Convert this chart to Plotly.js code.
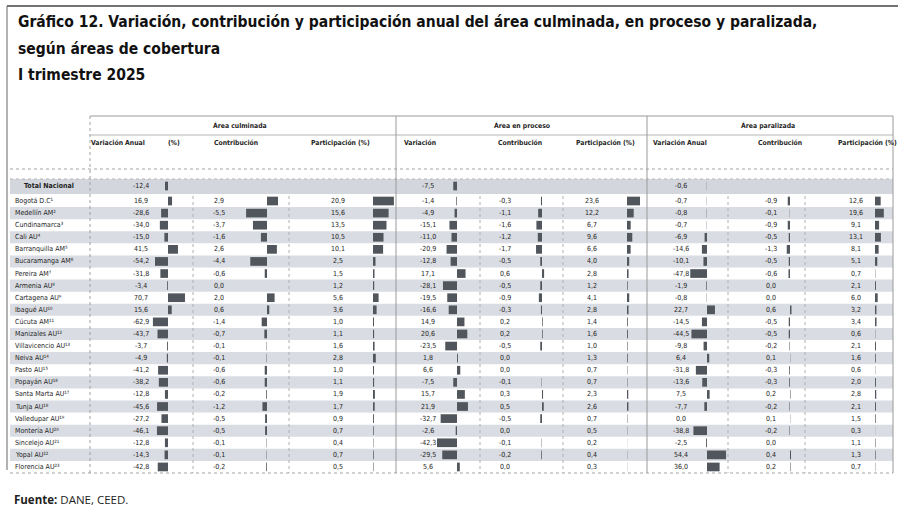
<!DOCTYPE html>
<html><head><meta charset="utf-8">
<script src="https://cdn.plot.ly/plotly-3.0.1.min.js"></script>
<style>html,body{margin:0;padding:0;background:#fff}#chart{width:898px;height:507px}</style>
</head><body><div id="chart"></div>
<script>
// ---------------- DATA ----------------
const regions = ['Bogotá D.C','Medellín AM','Cundinamarca','Cali AU','Barranquilla AM','Bucaramanga AM','Pereira AM','Armenia AU','Cartagena AU','Ibagué AU','Cúcuta AM','Manizales AU','Villavicencio AU','Neiva AU','Pasto AU','Popayán AU','Santa Marta AU','Tunja AU','Valledupar AU','Montería AU','Sincelejo AU','Yopal AU','Florencia AU'];
const notes = ['¹','²','³','⁴','⁵','⁶','⁷','⁸','⁹','¹⁰','¹¹','¹²','¹³','¹⁴','¹⁵','¹⁶','¹⁷','¹⁸','¹⁹','²⁰','²¹','²²','²³'];
const totalLabel = 'Total Nacional';

// Área culminada
const culmVar = [16.9,-28.6,-34.0,-15.0,41.5,-54.2,-31.8,-3.4,70.7,15.6,-62.9,-43.7,-3.7,-4.9,-41.2,-38.2,-12.8,-45.6,-27.2,-46.1,-12.8,-14.3,-42.8];
const culmCon = [2.9,-5.5,-3.7,-1.6,2.6,-4.4,-0.6,0.0,2.0,0.6,-1.4,-0.7,-0.1,-0.1,-0.6,-0.6,-0.2,-1.2,-0.5,-0.5,-0.1,-0.1,-0.2];
const culmPar = [20.9,15.6,13.5,10.5,10.1,2.5,1.5,1.2,5.6,3.6,1.0,1.1,1.6,2.8,1.0,1.1,1.9,1.7,0.9,0.7,0.4,0.7,0.5];
// Área en proceso
const procVar = [-1.4,-4.9,-15.1,-11.0,-20.9,-12.8,17.1,-28.1,-19.5,-16.6,14.9,20.6,-23.5,1.8,6.6,-7.5,15.7,21.9,-32.7,-2.6,-42.3,-29.5,5.6];
const procCon = [-0.3,-1.1,-1.6,-1.2,-1.7,-0.5,0.6,-0.5,-0.9,-0.3,0.2,0.2,-0.5,0.0,0.0,-0.1,0.3,0.5,-0.5,0.0,-0.1,-0.2,0.0];
const procPar = [23.6,12.2,6.7,9.6,6.6,4.0,2.8,1.2,4.1,2.8,1.4,1.6,1.0,1.3,0.7,0.7,2.3,2.6,0.7,0.5,0.2,0.4,0.3];
// Área paralizada
const parVar = [-0.7,-0.8,-0.7,-6.9,-14.6,-10.1,-47.8,-1.9,-0.8,22.7,-14.5,-44.5,-9.8,6.4,-31.8,-13.6,7.5,-7.7,0.0,-38.8,-2.5,54.4,36.0];
const parCon = [-0.9,-0.1,-0.9,-0.5,-1.3,-0.5,-0.6,0.0,0.0,0.6,-0.5,-0.5,-0.2,0.1,-0.3,-0.3,0.2,-0.2,0.1,-0.2,0.0,0.4,0.2];
const parPar = [12.6,19.6,9.1,13.1,8.1,5.1,0.7,2.1,6.0,3.2,3.4,0.6,2.1,1.6,0.6,2.0,2.8,2.1,1.5,0.3,1.1,1.3,0.7];
// Total nacional (variación)
const totalCulmVar = -12.4, totalProcVar = -7.5, totalParVar = -0.6;

const groupTitles = ['Área culminada','Área en proceso','Área paralizada'];
const colHeaders = ['Variación Anual','(%)','Contribución','Participación (%)','Variación','Contribución','Participación (%)','Variación Anual','Contribución','Participación (%)'];

// ---------------- LAYOUT HELPERS ----------------
const W = 898, H = 507;
const P = px => px / W;
const Q = py => 1 - py / H;
const TOTAL_Y = -1.24;
const yTop = 172, yBot = 473, rTop = -2.4, rBot = 22.5;

const font = "'DejaVu Sans Condensed', 'DejaVu Sans', sans-serif";
const txtCol = '#1e1e1e';
const barCol = '#50565b';
const fmt = v => v.toFixed(1).replace('.', ',');
const TS = 7;   // table text size
const HS = 6.8; // header text size
const TTL = 15.5;

const cols = [
  {vals: culmVar, dom:[145,190], zero:168, ppu:0.24, tx:141, total: totalCulmVar},
  {vals: culmCon, dom:[240,285], zero:267, ppu:3.8, tx:219},
  {vals: culmPar, dom:[373,395], zero:373, ppu:1.0, tx:338},
  {vals: procVar, dom:[437,476], zero:457, ppu:0.5, tx:428, total: totalProcVar},
  {vals: procCon, dom:[528,553], zero:542, ppu:3.5, tx:505},
  {vals: procPar, dom:[627,646], zero:627, ppu:0.55, tx:592},
  {vals: parVar, dom:[686,727], zero:707, ppu:0.35, tx:681, total: totalParVar},
  {vals: parCon, dom:[778,802], zero:790, ppu:2.5, tx:771},
  {vals: parPar, dom:[875,892], zero:875, ppu:0.45, tx:856}
];

const idx = regions.map((_, i) => i);
const traces = [];
const layout = {
  width: W, height: H,
  margin: {l:0, r:0, t:0, b:0},
  paper_bgcolor: '#ffffff', plot_bgcolor: 'rgba(0,0,0,0)',
  showlegend: false,
  separators: ',.',
  font: {family: font, color: txtCol},
  title: {text: '<b>Gráfico 12. Variación, contribución y participación anual del área culminada, en proceso y paralizada,</b>',
          x: P(18), xanchor: 'left', xref: 'paper', y: Q(22), yanchor: 'middle', yref: 'container',
          font: {family: font, size: TTL, color: '#111'}},
  yaxis: {domain: [Q(yBot), Q(yTop)], range: [rBot, rTop], visible: false, fixedrange: true},
  shapes: [], annotations: []
};

cols.forEach((c, k) => {
  const ax = k === 0 ? 'x' : 'x' + (k + 1);
  const axName = k === 0 ? 'xaxis' : 'xaxis' + (k + 1);
  layout[axName] = {domain: [P(c.dom[0]), P(c.dom[1])],
    range: [(c.dom[0] - c.zero) / c.ppu, (c.dom[1] - c.zero) / c.ppu],
    visible: false, fixedrange: true, anchor: 'y'};
  const ys = idx.slice(), xs = c.vals.slice();
  if (c.total !== undefined) { ys.push(TOTAL_Y); xs.push(c.total); }
  traces.push({type: 'bar', orientation: 'h', x: xs, y: ys, xaxis: ax, yaxis: 'y',
    width: 0.72, marker: {color: barCol}, hoverinfo: 'skip'});
  c.vals.forEach((v, i) => layout.annotations.push({xref:'paper', yref:'y', x:P(c.tx), y:i,
    text: fmt(v), showarrow:false, xanchor:'center', yanchor:'middle', font:{size:TS, color:txtCol}}));
  if (c.total !== undefined) layout.annotations.push({xref:'paper', yref:'y', x:P(c.tx), y:TOTAL_Y,
    text: fmt(c.total), showarrow:false, xanchor:'center', yanchor:'middle', font:{size:TS, color:txtCol}});
});

// row bands + labels
regions.forEach((r, i) => {
  if (i % 2 === 1) layout.shapes.push({type:'rect', layer:'below', xref:'paper', yref:'y',
    x0:P(10), x1:P(893), y0:i-0.5, y1:i+0.5, fillcolor:'#d9dce2', line:{width:0}});
  layout.annotations.push({xref:'paper', yref:'y', x:P(13), y:i, xanchor:'left', yanchor:'middle',
    text: r + notes[i], showarrow:false, font:{size:TS, color:txtCol}});
});
// total band
layout.shapes.push({type:'rect', layer:'below', xref:'paper', yref:'paper',
  x0:P(10), x1:P(893), y0:Q(194), y1:Q(179), fillcolor:'#d3d6dc', line:{width:0}});
layout.annotations.push({xref:'paper', yref:'y', x:P(49), y:TOTAL_Y, xanchor:'center', yanchor:'middle',
  text: '<b>' + totalLabel + '</b>', showarrow:false, font:{size:TS, color:txtCol}});

// grid lines
const L = (x0, y0, x1, y1, color, dash, w) => layout.shapes.push({type:'line', xref:'paper', yref:'paper',
  x0:P(x0), y0:Q(y0), x1:P(x1), y1:Q(y1), line:{color:color, width:w || 1, dash:dash || 'solid'}});
L(90, 116, 893, 116, '#9a9a9a');
L(90, 135, 893, 135, '#b5b5b5');
L(10, 169, 893, 169, '#a5a5a5', 'dot');
L(10, 179, 893, 179, '#b5b5b5', 'dot');
L(10, 473, 893, 473, '#a5a5a5', 'dot');
L(90, 116, 90, 473, '#a0a0a0', 'dot');
L(396, 116, 396, 473, '#9a9a9a');
L(647, 116, 647, 473, '#9a9a9a');
L(893, 116, 893, 473, '#9a9a9a');
[193, 289, 480, 563, 728, 805].forEach(x => L(x, 196, x, 473, '#b0b0b0', 'dot'));
// scan frame
L(7, 6, 898, 6, '#444', 'solid', 1.5);
L(7, 6, 7, 470, '#666', 'solid', 1);

// headers
const hdr = (text, x, y, anchor) => layout.annotations.push({xref:'paper', yref:'paper', x:P(x), y:Q(y),
  xanchor: anchor || 'center', yanchor:'middle', text:'<b>' + text + '</b>', showarrow:false,
  font:{size:HS, color:txtCol}});
hdr(groupTitles[0], 240, 126); hdr(groupTitles[1], 522, 126); hdr(groupTitles[2], 768, 126);
hdr(colHeaders[0], 118, 143); hdr(colHeaders[1], 174, 143); hdr(colHeaders[2], 236, 143);
hdr(colHeaders[3], 340, 143); hdr(colHeaders[4], 402, 143, 'left'); hdr(colHeaders[5], 520, 143);
hdr(colHeaders[6], 605, 143); hdr(colHeaders[7], 680, 143); hdr(colHeaders[8], 780, 143);
hdr(colHeaders[9], 867, 143);

// title lines 2-3 and source
layout.annotations.push({xref:'paper', yref:'paper', x:P(16), y:Q(49), xanchor:'left', yanchor:'middle',
  text:'<b>según áreas de cobertura</b>', showarrow:false, font:{size:TTL, color:'#111', family:font}});
layout.annotations.push({xref:'paper', yref:'paper', x:P(16), y:Q(75), xanchor:'left', yanchor:'middle',
  text:'<b>I trimestre 2025</b>', showarrow:false, font:{size:TTL, color:'#111', family:font}});
layout.annotations.push({xref:'paper', yref:'paper', x:P(12), y:Q(499), xanchor:'left', yanchor:'middle',
  text:'<b>Fuente:</b> DANE, CEED.', showarrow:false, font:{size:11.5, color:'#222', family:"'Open Sans', sans-serif"}});

Plotly.newPlot('chart', traces, layout, {displayModeBar:false, staticPlot:true});
</script></body></html>
